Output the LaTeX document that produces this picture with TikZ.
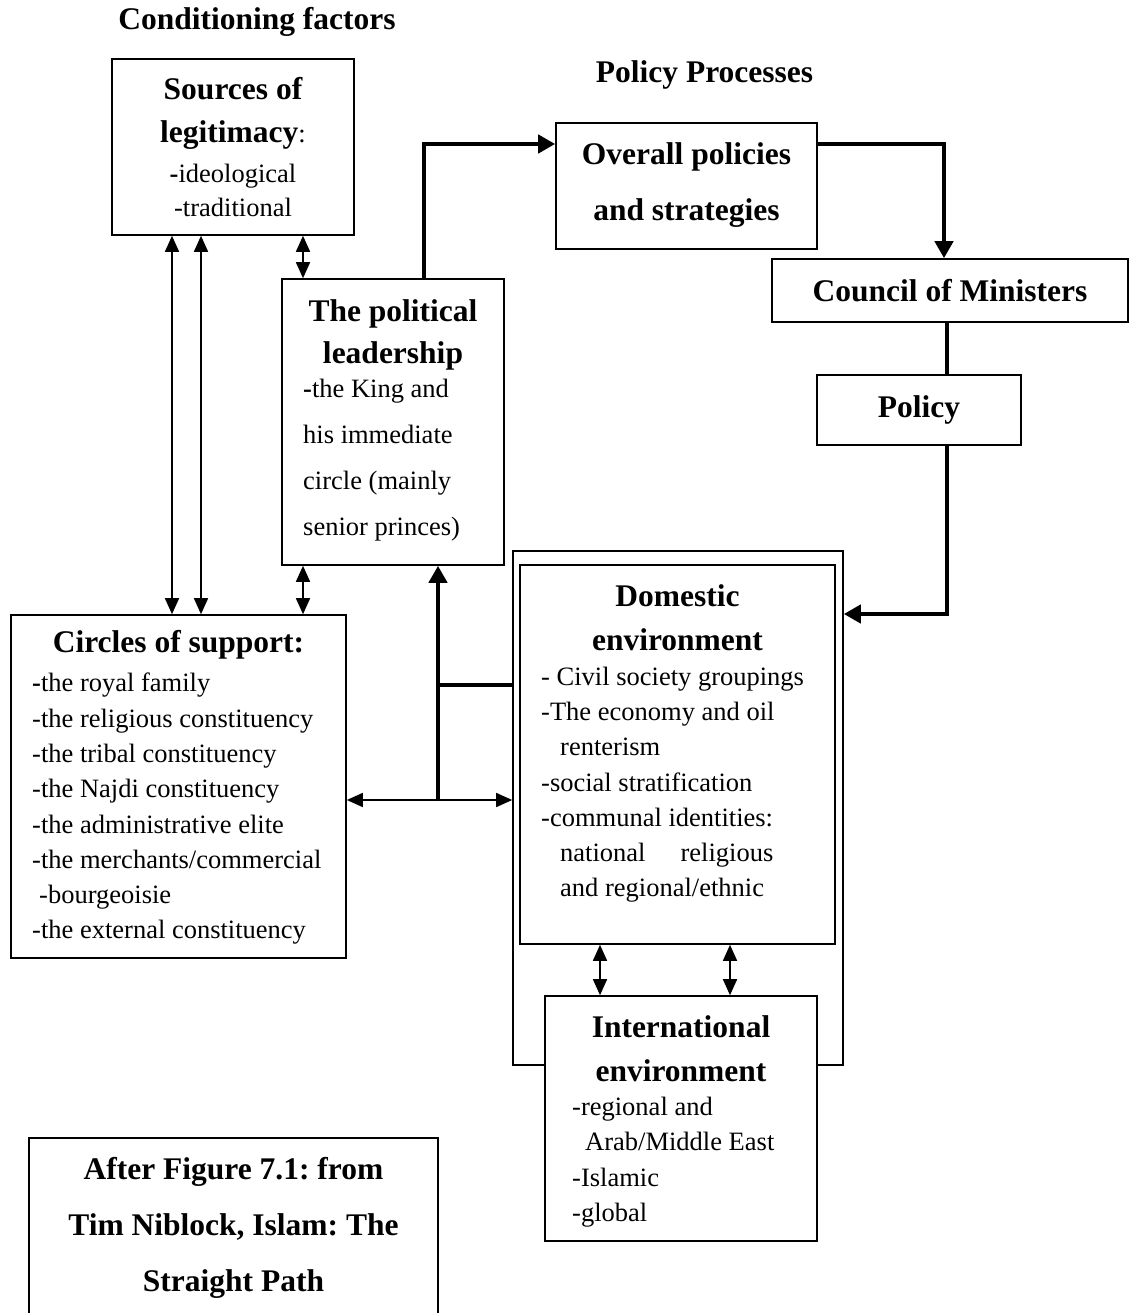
\documentclass[tikz,border=0pt]{standalone}
\usepackage{fontspec}
\setmainfont{Liberation Serif}
\usetikzlibrary{arrows.meta}
\frenchspacing
\newcommand{\headtxt}[1]{{\bfseries\fontsize{31.5}{38}\selectfont #1}}

\begin{document}
\begin{tikzpicture}[x=1pt,y=-1pt, % pixel units, y runs down
    box/.style={draw, line width=1.6pt, inner sep=0pt},
    txt/.style={inner sep=0pt, font=\fontsize{26.5}{34}\selectfont},
    hdfont/.style={font=\bfseries\fontsize{31.5}{38}\selectfont},
    dbl/.style={{Triangle[length=16pt,width=14pt]}-{Triangle[length=16pt,width=14pt]}, line width=1.6pt},
    heavy/.style={line width=4.5pt},
    heavyarr/.style={-{Triangle[length=17pt,width=18pt]}, line width=4.5pt}]
        \useasboundingbox (0,0) rectangle (1131,1313);
        \clip (0,0) rectangle (1131,1313);

        % headings
        \node[txt, hdfont] (condhd) at (257,22) {Conditioning factors};
        \node[txt, hdfont] (prochd) at (704.5,75) {Policy Processes};

        % conditioning factors
        \node[box, minimum width=242pt, minimum height=176pt] (src) at (233,147) {};
        \node[txt, anchor=north, align=center] (srctxt) at (233,77) {\headtxt{Sources of}\\[9pt]\headtxt{legitimacy}:\\[6pt]\textbf{-}ideological\\-traditional};

        \node[box, minimum width=222pt, minimum height=286pt] (lead) at (393,422) {};
        \node[txt, anchor=north, align=center] (leadhd) at (393,299) {\headtxt{The political}\\[8pt]\headtxt{leadership}};
        \node[txt, anchor=north west, align=left] (leadtxt) at (303,379) {\textbf{-}the King and\\[12pt]his immediate\\[12pt]circle (mainly\\[12pt]senior princes)};

        \node[box, minimum width=335pt, minimum height=343pt] (circ) at (178.5,786.5) {};
        \node[txt, hdfont] (circhd) at (178.5,645) {Circles of support:};
        \node[txt, anchor=north west, align=left, font=\fontsize{26.5}{35.3}\selectfont] (circtxt) at (32,673) {\textbf{-}the royal family\\-the religious constituency\\-the tribal constituency\\-the Najdi constituency\\-the administrative elite\\-the merchants/commercial\\\hspace*{7pt}-bourgeoisie\\-the external constituency};

        % policy processes
        \node[box, minimum width=261pt, minimum height=126pt] (overall) at (686.5,186) {};
        \node[txt, anchor=north, align=center] (overalltxt) at (686.5,142) {\headtxt{Overall policies}\\[22pt]\headtxt{and strategies}};
        \node[box, hdfont, minimum width=356pt, minimum height=63pt] (council) at (950,290.5) {Council of Ministers};
        \node[box, hdfont, minimum width=204pt, minimum height=70pt] (policy) at (919,410) {Policy};

        % environments
        \node[box, minimum width=330pt, minimum height=514pt] (envout) at (678,808) {};
        \node[box, minimum width=315pt, minimum height=379pt] (dom) at (677.5,754.5) {};
        \node[txt, anchor=north, align=center] (domhd) at (677.5,584) {\headtxt{Domestic}\\[10pt]\headtxt{environment}};
        \node[txt, anchor=north west, align=left, font=\fontsize{26.5}{35.2}\selectfont] (domtxt) at (541,667) {- Civil society groupings\\-The economy and oil\\\hspace*{19pt}renterism\\-social stratification\\-communal identities:\\\hspace*{19pt}national\hspace{35pt}religious\\\hspace*{19pt}and regional/ethnic};

        \node[box, fill=white, minimum width=272pt, minimum height=245pt] (intl) at (681,1118.5) {};
        \node[txt, anchor=north, align=center] (intlhd) at (681,1015) {\headtxt{International}\\[10pt]\headtxt{environment}};
        \node[txt, anchor=north west, align=left, font=\fontsize{26.5}{35.3}\selectfont] (intltxt) at (572,1097) {-regional and\\\hspace*{13pt}Arab/Middle East\\-Islamic\\-global};

        % source note
        \node[box, minimum width=409pt, minimum height=202pt] (note) at (233.5,1239) {};
        \node[txt, anchor=north, align=center] (notetxt) at (233.5,1157) {\headtxt{After Figure 7.1: from}\\[22pt]\headtxt{Tim Niblock, Islam: The}\\[22pt]\headtxt{Straight Path}};

        % two-way links
        \draw[dbl] ([xshift=-61pt]src.south) -- ([xshift=-6.5pt]circ.north);
        \draw[dbl] ([xshift=-32pt]src.south) -- ([xshift=22.5pt]circ.north);
        \draw[dbl] ([xshift=70pt]src.south) -- ([xshift=-90pt]lead.north);
        \draw[dbl] ([xshift=-90pt]lead.south) -- ([xshift=124.5pt]circ.north);
        \draw[dbl] ([yshift=-13.5pt]circ.east) -- ([yshift=8pt]envout.west);
        \draw[dbl] ([xshift=-77.5pt]dom.south) -- ([xshift=-81pt]intl.north);
        \draw[dbl] ([xshift=52.5pt]dom.south) -- ([xshift=49pt]intl.north);

        % policy loop
        \coordinate (jn) at (438,800);
        \draw[heavyarr] ([xshift=31pt]lead.north) |- ([yshift=42pt]overall.west);
        \draw[heavyarr] ([yshift=42pt]overall.east) -| ([xshift=-6pt]council.north);
        \draw[heavy] ([xshift=-3pt]council.south) -- ([xshift=28pt]policy.north);
        \draw[heavyarr] ([xshift=28pt]policy.south) |- ([yshift=194pt]envout.east);
        \draw[heavy] ([yshift=123pt]envout.west) -| (jn);
        \draw[heavyarr] (jn) -- ([xshift=45pt]lead.south);

    \end{tikzpicture}
\end{document}
